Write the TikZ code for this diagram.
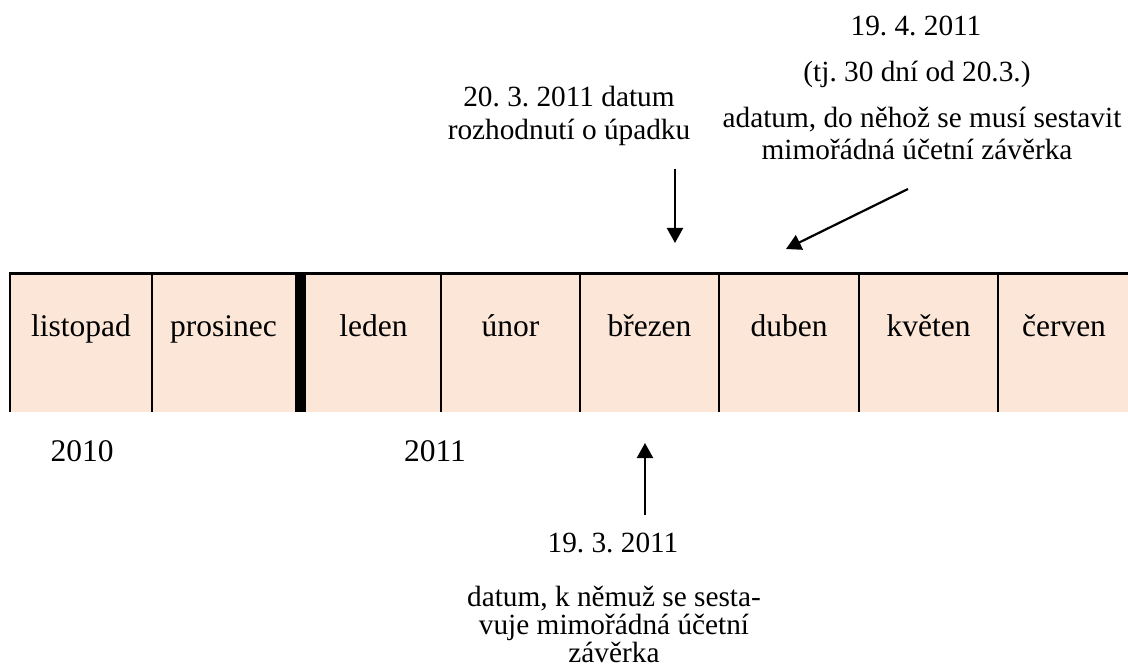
\documentclass[tikz,border=0pt]{standalone}
\usepackage{fontspec}
\setmainfont{Liberation Serif}
\usetikzlibrary{arrows.meta}
\definecolor{cellfill}{HTML}{FBE6D8}
\frenchspacing
\begin{document}
\begin{tikzpicture}[x=1pt,y=-1pt,
  txt/.style={inner sep=0pt, anchor=base, font=\fontsize{31.5}{38}\selectfont\frenchspacing},
  note/.style={inner sep=0pt, anchor=base, font=\fontsize{29.3}{35}\selectfont\frenchspacing},
  border/.style={line width=2.3pt},
  pointer/.style={line width=2.2pt, -{Triangle[length=15pt,width=16pt]}}]
\useasboundingbox (0,0) rectangle (1128,671);

% timeline bar
\fill[cellfill] (10,274) rectangle (1128,412);
\draw[line width=3pt] (8.85,274) -- (1128,274);
\foreach \x in {10,152,441,580,719,859,998}
  \draw[border] (\x,274) -- (\x,412);
% year boundary
\fill (295,274) rectangle (306,412);

% months
\foreach \name/\x [count=\i] in {listopad/81,prosinec/223.5,leden/373.5,únor/510.5,
    březen/649.5,duben/789,květen/928.5,červen/1064}
  \node[txt] (m\i) at (\x,337) {\name};

% years
\node[txt] (y2010) at (82,461) {2010};
\node[txt] (y2011) at (435,461) {2011};

% decision date
\node[note] (d1a) at (569,107) {20. 3. 2011 datum};
\node[note] (d1b) at (569,140) {rozhodnutí o úpadku};

% deadline
\node[note] (d2a) at (916,36) {19. 4. 2011};
\node[note] (d2b) at (917,82) {(tj. 30 dní od 20.3.)};
\node[note] (d2c) at (922,128) {adatum, do něhož se musí sestavit};
\node[note] (d2d) at (917,160) {mimořádná účetní závěrka};

% balance date
\node[note] (d3a) at (613,552) {19. 3. 2011};
\node[note] (d3b) at (614,606) {datum, k němuž se sesta-};
\node[note] (d3c) at (614,634) {vuje mimořádná účetní};
\node[note] (d3d) at (614,662) {závěrka};

% pointers
\coordinate (p1s) at (675,169);
\coordinate (p1e) at (675,243);
\coordinate (p2s) at (908,189);
\coordinate (p2e) at (786,249);
\coordinate (p3s) at (645,515);
\coordinate (p3e) at (645,443);
\draw[pointer] (p1s) -- (p1e);
\draw[pointer] (p2s) -- (p2e);
\draw[pointer] (p3s) -- (p3e);
\end{tikzpicture}
\end{document}
